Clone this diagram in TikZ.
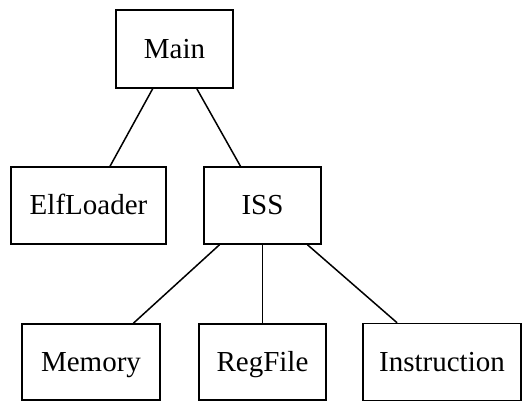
\documentclass[tikz,border=0pt]{standalone}
\usepackage{fontspec}
\setmainfont{Liberation Serif}
\begin{document}
\begin{tikzpicture}[x=1pt,y=1pt,
  box/.style={draw, line width=1.5pt, rectangle, inner sep=0pt, text height=19pt, text depth=0pt, font=\fontsize{29}{32}\selectfont},
  link/.style={line width=1.5pt}]
\useasboundingbox (0,0) rectangle (523,401);
\node[box, minimum width=117, minimum height=78] (main) at (174.5,352) {Main};
\node[box, minimum width=155, minimum height=77] (elf) at (88.5,195.5) {ElfLoader};
\node[box, minimum width=117, minimum height=77] (iss) at (262.5,195.5) {ISS};
\node[box, minimum width=138, minimum height=76] (mem) at (91,39) {Memory};
\node[box, minimum width=127, minimum height=76] (reg) at (262.5,39) {RegFile};
\node[box, minimum width=158, minimum height=77] (ins) at (442,39) {Instruction};
\draw[link] (main) -- (elf);
\draw[link] (main) -- (iss);
\draw[link] (iss) -- (mem);
\draw[link] (iss) -- (reg);
\draw[link] (iss) -- (ins);
\end{tikzpicture}
\end{document}
